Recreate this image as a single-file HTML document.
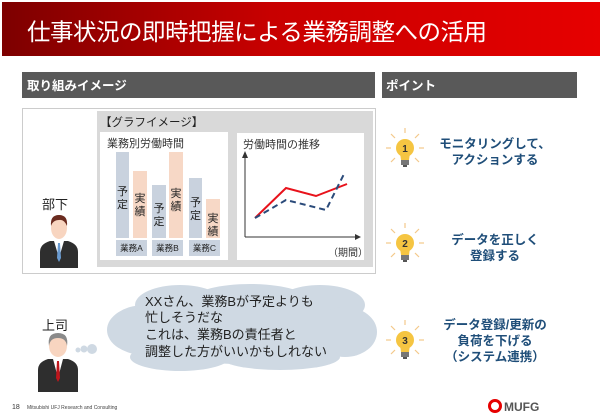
<!DOCTYPE html>
<html><head><meta charset="utf-8"><style>
body{margin:0;background:#fff;}
svg{display:block;font-family:"Liberation Sans","Noto Sans CJK JP",sans-serif;}
</style></head><body>
<svg width="600" height="418" viewBox="0 0 600 418" xmlns="http://www.w3.org/2000/svg">
<defs>
<linearGradient id="hg" x1="0" x2="1" y1="0" y2="0">
<stop offset="0" stop-color="#7d0000"/><stop offset="0.45" stop-color="#c80000"/><stop offset="1" stop-color="#e60000"/>
</linearGradient>
<g id="bulb">
<g stroke="#f4c98a" stroke-width="1.2">
<line x1="0" y1="-20" x2="0" y2="-15"/><line x1="-14" y1="-14" x2="-10" y2="-10"/><line x1="14" y1="-14" x2="10" y2="-10"/>
<line x1="-19" y1="0" x2="-14" y2="0"/><line x1="19" y1="0" x2="14" y2="0"/>
<line x1="-14" y1="14" x2="-10" y2="10"/><line x1="14" y1="14" x2="10" y2="10"/>
</g>
<circle cx="0" cy="0" r="9" fill="#f5c542"/>
<path d="M-5,5 L-4,12 L4,12 L5,5 Z" fill="#f5c542"/>
<rect x="-4" y="12" width="8" height="5" fill="#777"/>
<rect x="-2" y="17" width="4" height="2" fill="#555"/>
</g>
</defs>
<rect width="600" height="418" fill="#fff"/>
<rect x="2" y="2" width="598" height="54" fill="url(#hg)"/>
<text x="27" y="40" font-size="23.5" fill="#fff" textLength="460">仕事状況の即時把握による業務調整への活用</text>
<rect x="22" y="72" width="353" height="26" fill="#595959"/>
<text x="27" y="90" font-size="12.5" fill="#fff" font-weight="bold">取り組みイメージ</text>
<rect x="382" y="72" width="195" height="26" fill="#595959"/>
<text x="386" y="90" font-size="12.5" fill="#fff" font-weight="bold">ポイント</text>
<rect x="22.5" y="108.5" width="353" height="165" fill="#fff" stroke="#ccc"/>
<rect x="97" y="111" width="276" height="156" fill="#d9d9d9"/>
<text x="100" y="126" font-size="11.5" fill="#222">【グラフイメージ】</text>
<rect x="100" y="132" width="128" height="128" fill="#fff"/>
<rect x="237" y="133" width="127" height="127" fill="#fff"/>
<text x="107" y="147" font-size="11" fill="#333">業務別労働時間</text>
<g fill="#c9d2de"><rect x="116" y="152" width="13" height="86"/><rect x="152" y="185" width="14" height="53"/><rect x="189" y="178" width="13" height="60"/></g>
<g fill="#f7d8c6"><rect x="133" y="171" width="14" height="67"/><rect x="169" y="152" width="14" height="86"/><rect x="206" y="199" width="14" height="39"/></g>
<g font-size="11" fill="#222" text-anchor="middle">
<text x="122.5" y="195">予</text><text x="122.5" y="208">定</text>
<text x="140" y="202">実</text><text x="140" y="215">績</text>
<text x="159" y="212">予</text><text x="159" y="225">定</text>
<text x="176" y="197">実</text><text x="176" y="210">績</text>
<text x="195.5" y="206">予</text><text x="195.5" y="219">定</text>
<text x="213" y="222">実</text><text x="213" y="235">績</text>
</g>
<g fill="#c9d2de"><rect x="116" y="240" width="31" height="16"/><rect x="152" y="240" width="31" height="16"/><rect x="189" y="240" width="31" height="16"/></g>
<g font-size="8.5" fill="#222" text-anchor="middle"><text x="131.5" y="251">業務A</text><text x="167.5" y="251">業務B</text><text x="204.5" y="251">業務C</text></g>
<text x="243" y="148" font-size="11" fill="#333">労働時間の推移</text>
<g stroke="#333" stroke-width="1" fill="none"><line x1="245" y1="237" x2="245" y2="157"/><line x1="245" y1="237" x2="356" y2="237"/></g>
<path d="M242,158 L245,151 L248,158 Z M355,234 L361,237 L355,240 Z" fill="#333"/>
<polyline points="255,218 286,188 316,196 347,184" fill="none" stroke="#e8121b" stroke-width="2"/>
<polyline points="255,218 286,200 326,210 345,172" fill="none" stroke="#2a4a7a" stroke-width="2" stroke-dasharray="6,4"/>
<text x="328" y="256" font-size="10" fill="#333">（期間）</text>
<text x="42" y="209" font-size="13" fill="#222">部下</text>
<path d="M40,268 L40,252 Q40,244 50,241 L68,241 Q78,244 78,252 L78,268 Z" fill="#2e2e2e"/>
<path d="M54,241 L59,258 L64,241 Z" fill="#fff"/>
<path d="M58,243 L60,243 L61,258 L59,262 L57,258 Z" fill="#6a9bd1"/>
<ellipse cx="59" cy="228" rx="8" ry="11" fill="#f8d5c0"/>
<path d="M51,226 Q50,215 59,215 Q68,215 67,226 Q64,219 59,220 Q53,220 51,226 Z" fill="#6b2c20"/>
<g fill="#cfd9e3">
<ellipse cx="240" cy="328" rx="128" ry="36"/>
<ellipse cx="180" cy="305" rx="45" ry="20"/><ellipse cx="250" cy="298" rx="55" ry="14"/><ellipse cx="320" cy="305" rx="45" ry="20"/>
<ellipse cx="145" cy="330" rx="38" ry="25"/><ellipse cx="345" cy="332" rx="32" ry="25"/>
<ellipse cx="180" cy="357" rx="50" ry="14"/><ellipse cx="280" cy="357" rx="60" ry="13"/>
<circle cx="92" cy="349" r="5"/><circle cx="84" cy="349" r="3.5"/><circle cx="78" cy="350" r="2.5"/>
</g>
<g font-size="13" fill="#222">
<text x="145" y="306">XXさん、業務Bが予定よりも</text>
<text x="145" y="322">忙しそうだな</text>
<text x="145" y="339">これは、業務Bの責任者と</text>
<text x="145" y="356">調整した方がいいかもしれない</text>
</g>
<text x="42" y="330" font-size="13" fill="#222">上司</text>
<path d="M38,392 L38,370 Q38,362 48,359 L68,359 Q78,362 78,370 L78,392 Z" fill="#2e2e2e"/>
<path d="M53,359 L58,378 L63,359 Z" fill="#fff"/>
<path d="M57,361 L59,361 L60,378 L58,382 L56,378 Z" fill="#c0161c"/>
<ellipse cx="58" cy="346" rx="9" ry="11" fill="#f8d5c0"/>
<path d="M49,346 Q47,333 58,333 Q69,333 67,346 Q66,338 58,338 Q50,338 49,346 Z" fill="#8a8a8a"/>
<use href="#bulb" x="405" y="148"/>
<use href="#bulb" x="405" y="243"/>
<use href="#bulb" x="405" y="340"/>
<g font-size="10" font-weight="bold" fill="#333" text-anchor="middle"><text x="405" y="152">1</text><text x="405" y="247">2</text><text x="405" y="344">3</text></g>
<g font-size="12.5" font-weight="bold" fill="#1f4e79" text-anchor="middle">
<text x="495" y="148">モニタリングして、</text><text x="495" y="164">アクションする</text>
<text x="495" y="244">データを正しく</text><text x="495" y="260">登録する</text>
<text x="495" y="329">データ登録/更新の</text><text x="495" y="345">負荷を下げる</text><text x="495" y="361">（システム連携）</text>
</g>
<text x="12" y="409" font-size="7" fill="#333">18</text>
<text x="27" y="409" font-size="5" fill="#444">Mitsubishi UFJ Research and Consulting</text>
<circle cx="495" cy="406" r="5.5" fill="none" stroke="#e60000" stroke-width="3"/>
<text x="504" y="411" font-size="12" font-weight="bold" fill="#555">MUFG</text>
</svg>
</body></html>
